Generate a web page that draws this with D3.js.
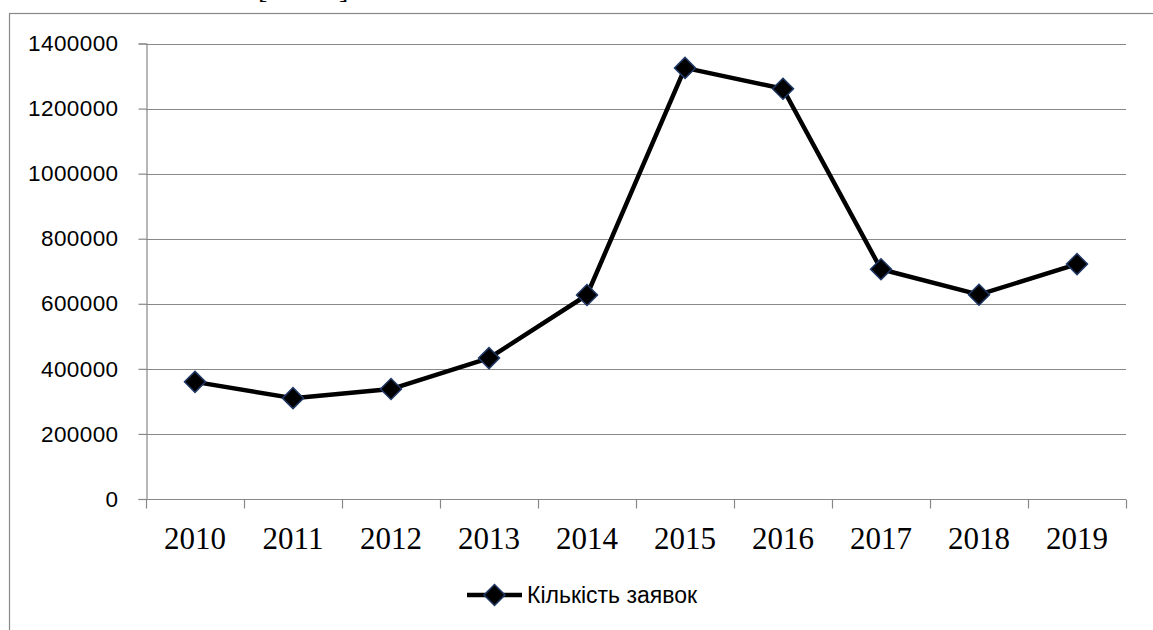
<!DOCTYPE html>
<html>
<head>
<meta charset="utf-8">
<script src="https://cdn.jsdelivr.net/npm/d3@7"></script>
<style>
  html, body { margin: 0; padding: 0; background: #fff; }
  svg { display: block; }
</style>
</head>
<body>
<svg id="chart" width="1153" height="630"></svg>
<script>
// Chart data
const years = ["2010", "2011", "2012", "2013", "2014", "2015", "2016", "2017", "2018", "2019"];
const applications = [360000, 310000, 338000, 433000, 627000, 1325000, 1261000, 706000, 628000, 722000];
const yTicks = [0, 200000, 400000, 600000, 800000, 1000000, 1200000, 1400000];
const seriesName = "Кількість заявок";

const svg = d3.select("#chart");
const gridColor = "#888888";

const plot = { left: 146, right: 1126, top: 43.5, bottom: 499 };

const x = d3.scaleBand().domain(years).range([plot.left, plot.right]);
const y = d3.scaleLinear().domain([0, 1400000]).range([plot.bottom, plot.top]);

// Outer chart border (right/bottom edges fall outside the picture)
svg.append("rect")
  .attr("x", 9.5).attr("y", 13.5)
  .attr("width", 1200).attr("height", 700)
  .attr("fill", "none")
  .attr("stroke", gridColor)
  .attr("stroke-width", 1.2);

// Brackets of the caption above the chart, cut by the top edge as in the source
svg.append("text").attr("x", 258).attr("y", -2)
  .style("font-family", "Liberation Serif").style("font-size", "28px").text("[");
svg.append("text").attr("x", 339).attr("y", -2)
  .style("font-family", "Liberation Serif").style("font-size", "28px").text("]");

// Horizontal gridlines
svg.append("g")
  .selectAll("line")
  .data(yTicks.filter(d => d > 0))
  .join("line")
  .attr("x1", plot.left).attr("x2", plot.right)
  .attr("y1", d => Math.round(y(d)) + 0.5).attr("y2", d => Math.round(y(d)) + 0.5)
  .attr("stroke", gridColor)
  .attr("stroke-width", 1.2);

// Y axis
const yAxis = svg.append("g")
  .attr("transform", `translate(${plot.left + 0.5},0)`)
  .call(d3.axisLeft(y).tickValues(yTicks).tickSize(8).tickPadding(20).tickFormat(d3.format("d")));
yAxis.select(".domain").attr("stroke", gridColor).attr("stroke-width", 1.2);
yAxis.selectAll(".tick line").attr("stroke", gridColor).attr("stroke-width", 1.2);
yAxis.selectAll(".tick text")
  .style("font-family", "'Liberation Sans', Arial, sans-serif")
  .style("font-size", "22.5px")
  .style("letter-spacing", "0.4px")
  .attr("fill", "#000");

// X axis: ticks at category boundaries
const xAxisG = svg.append("g").attr("transform", `translate(0,${plot.bottom + 0.5})`);
xAxisG.append("line")
  .attr("x1", plot.left).attr("x2", plot.right)
  .attr("stroke", gridColor).attr("stroke-width", 1.2);
const boundaries = years.map(d => x(d)).concat([plot.right]);
xAxisG.selectAll("line.tk")
  .data(boundaries)
  .join("line")
  .attr("class", "tk")
  .attr("x1", d => Math.round(d) + 0.5).attr("x2", d => Math.round(d) + 0.5)
  .attr("y1", 0).attr("y2", 9)
  .attr("stroke", gridColor).attr("stroke-width", 1.2);
xAxisG.selectAll("text")
  .data(years)
  .join("text")
  .attr("x", d => x(d) + x.bandwidth() / 2)
  .attr("y", 49)
  .attr("text-anchor", "middle")
  .style("font-family", "'Liberation Serif', 'Times New Roman', serif")
  .style("font-size", "31px")
  .attr("fill", "#000")
  .text(d => d);

// Line
const line = d3.line()
  .x((d, i) => x(years[i]) + x.bandwidth() / 2)
  .y(d => y(d));

svg.append("path")
  .datum(applications)
  .attr("d", line)
  .attr("fill", "none")
  .attr("stroke", "#000")
  .attr("stroke-width", 4.5)
  .attr("stroke-linejoin", "round");

// Diamond markers (rotated squares)
const marker = d3.symbol().type(d3.symbolSquare).size(220);
svg.append("g")
  .selectAll("path")
  .data(applications)
  .join("path")
  .attr("transform", (d, i) => `translate(${x(years[i]) + x.bandwidth() / 2},${y(d)}) rotate(45)`)
  .attr("d", marker)
  .attr("fill", "#000")
  .attr("stroke", "#1f3864")
  .attr("stroke-width", 1.5);

// Legend
const legend = svg.append("g").attr("transform", "translate(467,595)");
legend.append("line")
  .attr("x1", 0).attr("x2", 55)
  .attr("stroke", "#000").attr("stroke-width", 4.5);
legend.append("path")
  .attr("transform", "translate(27.5,0) rotate(45)")
  .attr("d", marker)
  .attr("fill", "#000")
  .attr("stroke", "#1f3864")
  .attr("stroke-width", 1.5);
legend.append("text")
  .attr("x", 60)
  .attr("y", 0)
  .attr("dy", "0.35em")
  .style("font-family", "'Liberation Sans', Arial, sans-serif")
  .style("font-size", "23px")
  .attr("fill", "#000")
  .text(seriesName);
</script>
</body>
</html>
